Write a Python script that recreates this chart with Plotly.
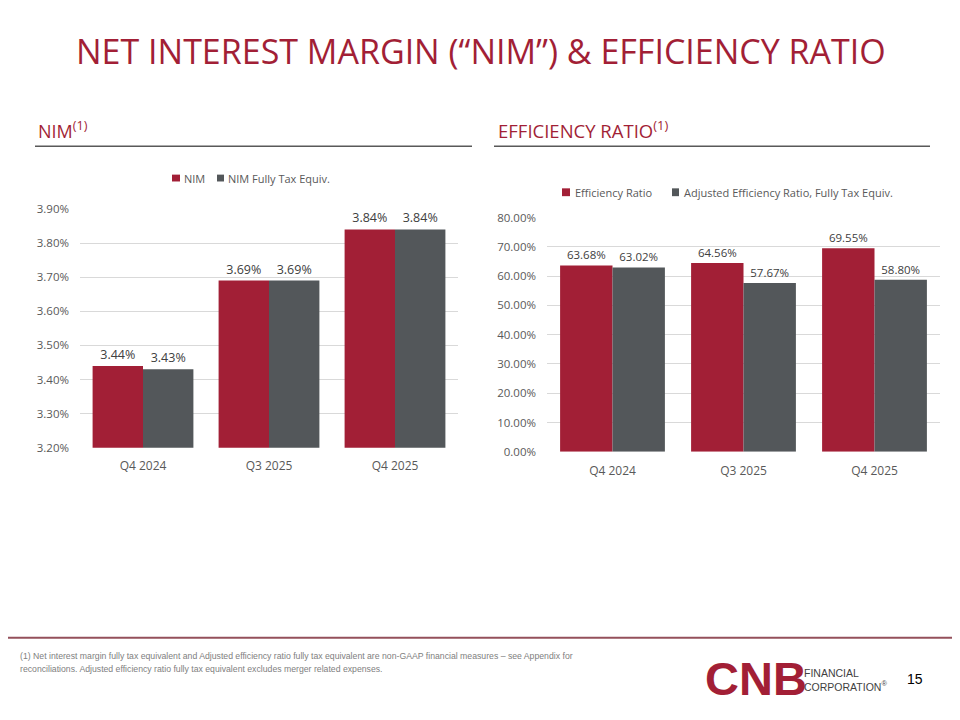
import plotly.graph_objects as go

categories = ["Q4 2024", "Q3 2025", "Q4 2025"]
nim = [3.44, 3.69, 3.84]
nim_fte = [3.43, 3.69, 3.84]
eff = [63.68, 64.56, 69.55]
eff_adj = [63.02, 57.67, 58.80]
nim_ticks = [3.2, 3.3, 3.4, 3.5, 3.6, 3.7, 3.8, 3.9]
eff_ticks = [0, 10, 20, 30, 40, 50, 60, 70, 80]
nim_names = ["NIM", "NIM Fully Tax Equiv."]
eff_names = ["Efficiency Ratio", "Adjusted Efficiency Ratio, Fully Tax Equiv."]

RED = "#A21F36"
GRAY = "#53575A"
TXT = "#595959"
LBL = "#404040"
FONT = "Open Sans"

W, H, OFF = 960, 720, 8   # page shows the figure offset by the body margin


def X(px):
    return (px - OFF) / W


def Y(py):
    return 1 - (py - OFF) / H


fig = go.Figure()

fig.add_trace(go.Bar(x=categories, y=nim, name=nim_names[0], marker_color=RED,
                     text=[f"{v:.2f}%" for v in nim], textposition="outside",
                     textfont=dict(size=12.5, color=LBL, family=FONT),
                     cliponaxis=False, xaxis="x", yaxis="y"))
fig.add_trace(go.Bar(x=categories, y=nim_fte, name=nim_names[1], marker_color=GRAY,
                     text=[f"{v:.2f}%" for v in nim_fte], textposition="outside",
                     textfont=dict(size=12.5, color=LBL, family=FONT),
                     cliponaxis=False, xaxis="x", yaxis="y"))
fig.add_trace(go.Bar(x=categories, y=eff, name=eff_names[0], marker_color=RED,
                     text=[f"{v:.2f}%" for v in eff], textposition="outside",
                     textfont=dict(size=11.5, color=LBL, family=FONT),
                     cliponaxis=False, xaxis="x2", yaxis="y2"))
fig.add_trace(go.Bar(x=categories, y=eff_adj, name=eff_names[1], marker_color=GRAY,
                     text=[f"{v:.2f}%" for v in eff_adj], textposition="outside",
                     textfont=dict(size=11.5, color=LBL, family=FONT),
                     cliponaxis=False, xaxis="x2", yaxis="y2"))

fig.update_traces(marker_line_width=0, showlegend=False)

tickfont = dict(size=11.5, color=TXT, family=FONT)
yax = dict(showline=False, zeroline=False, ticks="", tickfont=tickfont, fixedrange=True,
           showgrid=True, gridcolor="#D9D9D9", gridwidth=1, ticklabelstandoff=10)
xax = dict(showgrid=False, showline=False, zeroline=False, ticks="",
           tickfont=dict(size=12, color=TXT, family=FONT), fixedrange=True)

fig.update_layout(
    width=W, height=H,
    margin=dict(l=0, r=0, t=0, b=0),
    paper_bgcolor="white", plot_bgcolor="white",
    barmode="group", bargap=0.2, bargroupgap=0,
    font=dict(family=FONT, color=TXT),
    showlegend=False,
    xaxis=dict(domain=[X(80), X(458)], anchor="y", ticklabelstandoff=9, **xax),
    yaxis=dict(domain=[Y(449), Y(205)], anchor="x", range=[3.2, 3.9],
               tickvals=nim_ticks, ticktext=[f"{v:.2f}%" for v in nim_ticks], **yax),
    xaxis2=dict(domain=[X(547), X(940)], anchor="y2", ticklabelstandoff=10, **xax),
    yaxis2=dict(domain=[Y(453), Y(214)], anchor="x2", range=[0, 80],
                tickvals=eff_ticks, ticktext=[f"{v:.2f}%" for v in eff_ticks], **yax),
)

annotations = [
    dict(text="NET INTEREST MARGIN (“NIM”) & EFFICIENCY RATIO", x=X(481), y=Y(44),
         xanchor="center", yanchor="middle", font=dict(size=34, color=RED, family=FONT)),
    dict(text="NIM<sup>(1)</sup>", x=X(36), y=Y(124), xanchor="left", yanchor="middle",
         font=dict(size=18, color=RED, family=FONT)),
    dict(text="EFFICIENCY RATIO<sup>(1)</sup>", x=X(496), y=Y(124), xanchor="left", yanchor="middle",
         font=dict(size=18.5, color=RED, family=FONT)),
    # legends
    dict(text=nim_names[0], x=X(182), y=Y(174), xanchor="left", yanchor="middle",
         font=dict(size=11, color=TXT, family=FONT)),
    dict(text=nim_names[1], x=X(226), y=Y(174), xanchor="left", yanchor="middle",
         font=dict(size=11, color=TXT, family=FONT)),
    dict(text=eff_names[0], x=X(573), y=Y(188), xanchor="left", yanchor="middle",
         font=dict(size=11, color=TXT, family=FONT)),
    dict(text=eff_names[1], x=X(682), y=Y(188), xanchor="left", yanchor="middle",
         font=dict(size=11, color=TXT, family=FONT)),
    # footer
    dict(text="(1) Net interest margin fully tax equivalent and Adjusted efficiency ratio fully tax equivalent are non-GAAP financial measures – see Appendix for",
         x=X(18), y=Y(662), xanchor="left", yanchor="middle",
         font=dict(size=8.7, color="#808080", family="Liberation Sans")),
    dict(text="reconciliations. Adjusted efficiency ratio fully tax equivalent excludes merger related expenses.",
         x=X(18), y=Y(675), xanchor="left", yanchor="middle",
         font=dict(size=8.7, color="#808080", family="Liberation Sans")),
    dict(text="<b>CNB</b>", x=X(703), y=Y(685), xanchor="left", yanchor="middle",
         font=dict(size=47, color=RED, family="Liberation Sans")),
    dict(text="FINANCIAL<br>CORPORATION<sup>®</sup>", x=X(802), y=Y(686), xanchor="left", yanchor="middle",
         align="left", font=dict(size=10.5, color="#3F3F3F", family="Liberation Sans")),
    dict(text="15", x=X(915), y=Y(685), xanchor="center", yanchor="middle",
         font=dict(size=14, color="#000000", family="Liberation Sans")),
]
for a in annotations:
    a.update(xref="paper", yref="paper", showarrow=False)
fig.update_layout(annotations=annotations)

shapes = [
    dict(type="line", x0=X(35), x1=X(472), y0=Y(141), y1=Y(141), line=dict(color="#595959", width=1.5)),
    dict(type="line", x0=X(494), x1=X(930), y0=Y(141), y1=Y(141), line=dict(color="#595959", width=1.5)),
    dict(type="line", x0=X(0), x1=X(968), y0=Y(643), y1=Y(643), line=dict(color="#94505B", width=2)),
    # legend swatches
    dict(type="rect", x0=X(172), x1=X(180), y0=Y(177), y1=Y(170), fillcolor=RED, line=dict(width=0)),
    dict(type="rect", x0=X(217), x1=X(224), y0=Y(177), y1=Y(170), fillcolor=GRAY, line=dict(width=0)),
    dict(type="rect", x0=X(562), x1=X(570), y0=Y(192), y1=Y(184), fillcolor=RED, line=dict(width=0)),
    dict(type="rect", x0=X(672), x1=X(679), y0=Y(192), y1=Y(184), fillcolor=GRAY, line=dict(width=0)),
]
for s in shapes:
    s.update(xref="paper", yref="paper")
fig.update_layout(shapes=shapes)

fig.write_html("out.html")
